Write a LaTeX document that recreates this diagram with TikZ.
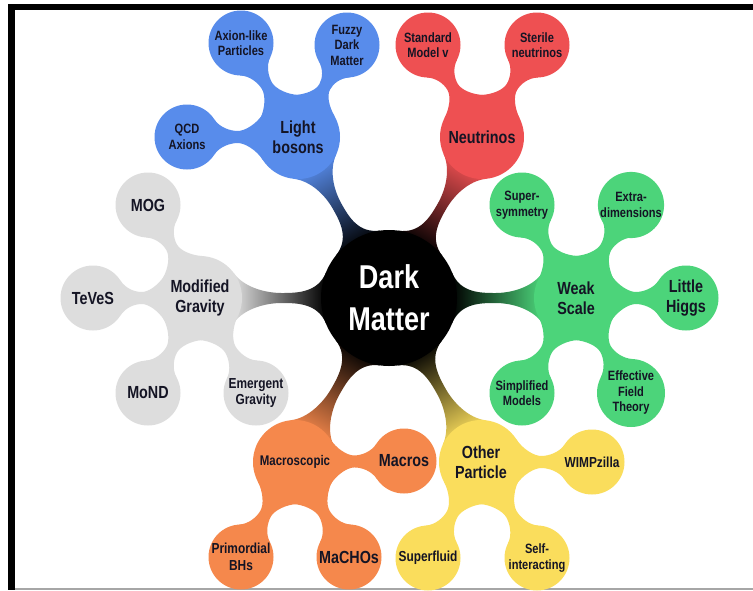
\documentclass[tikz,border=0pt]{standalone}
\usepackage{fontspec}
\usetikzlibrary{calc}
\IfFontExistsTF{Liberation Sans Narrow}{\newfontfamily\cond{Liberation Sans Narrow}}{\newfontfamily\cond{Liberation Sans}[FakeStretch=0.82]}
\definecolor{blueC}{RGB}{88,140,235}
\definecolor{redC}{RGB}{238,80,82}
\definecolor{greenC}{RGB}{76,212,122}
\definecolor{yellowC}{RGB}{250,221,92}
\definecolor{orangeC}{RGB}{245,136,76}
\definecolor{grayC}{RGB}{221,221,221}
\definecolor{txt}{RGB}{20,20,36}
\pgfdeclarelayer{paper}
\pgfdeclarelayer{bg}
\pgfsetlayers{paper,bg,main}
\newcommand\neck[5]{%
\path[#5] let \p1=($(#2)-(#1)$), \n1={atan2(\y1,\x1)}, \n2={veclen(\x1,\y1)},
  \n3={(\n2+#3-#4)/2}, \n4={\n1+\aA}, \n5={\n1-\aA}, \n6={\n1+180-\aB}, \n7={\n1+180+\aB},
  \n8={(\n2+#3-#4)/2-\hh}, \n9={(\n2+#3-#4)/2+\hh} in
  ($(#1)+(\n4:#3)$) .. controls ($(#1)+(\n4:#3)+(\n4-90:\kA)$) and ($(#1)+(\n1:\n8)+(\n1+90:\ww)$)
  .. ($(#1)+(\n1:\n3)+(\n1+90:\ww)$) .. controls ($(#1)+(\n1:\n9)+(\n1+90:\ww)$) and ($(#2)+(\n6:#4)+(\n6+90:\kB)$)
  .. ($(#2)+(\n6:#4)$) -- ($(#2)+(\n7:#4)$)
  .. controls ($(#2)+(\n7:#4)+(\n7-90:\kB)$) and ($(#1)+(\n1:\n9)+(\n1-90:\ww)$)
  .. ($(#1)+(\n1:\n3)+(\n1-90:\ww)$) .. controls ($(#1)+(\n1:\n8)+(\n1-90:\ww)$) and ($(#1)+(\n5:#3)+(\n5+90:\kA)$)
  .. ($(#1)+(\n5:#3)$) -- cycle;}
\begin{document}
\begin{tikzpicture}[x=1pt,y=1pt,
  bub/.style={circle, inner sep=0pt, align=center, text=txt},
  main/.style={bub, minimum size=84pt, font=\cond\bfseries\fontsize{17.5}{20}\selectfont},
  leaf/.style={bub, minimum size=65pt, font=\cond\bfseries\fontsize{13.5}{15.5}\selectfont},
  med/.style={font=\cond\bfseries\fontsize{14.5}{16.5}\selectfont},
  big/.style={font=\cond\bfseries\fontsize{17.5}{20}\selectfont}]
\useasboundingbox (0,0) rectangle (753,-590);
\begin{pgfonlayer}{paper}
\fill[white] (0,0) rectangle (753,-590);
\end{pgfonlayer}
% frame
\fill[black] (8,-4) rectangle (753,-10);
\fill[black] (8,-4) rectangle (15,-590);
\fill[black!35] (15,-588) rectangle (753,-589.5);
% nodes
\node[bub, minimum size=136pt, fill=black, text=white, font=\cond\bfseries\fontsize{33}{42}\selectfont] (DM) at (389,-298) {Dark\\Matter};
\node[main, fill=blueC] (LB) at (298,-137) {Light\\bosons};
\node[leaf, fill=blueC] (ALP) at (241,-43) {Axion-like\\Particles};
\node[leaf, fill=blueC] (FDM) at (347,-45) {Fuzzy\\Dark\\Matter};
\node[leaf, fill=blueC] (QCD) at (187,-137) {QCD\\Axions};
\node[main, fill=redC] (NEU) at (482,-137) {Neutrinos};
\node[leaf, fill=redC] (SMV) at (428,-45) {Standard\\Model v};
\node[leaf, fill=redC] (STE) at (537,-45) {Sterile\\neutrinos};
\node[main, fill=greenC] (WS) at (576,-298) {Weak\\Scale};
\node[leaf, fill=greenC] (SUSY) at (522,-205) {Super-\\symmetry};
\node[leaf, fill=greenC] (XD) at (631,-205) {Extra-\\dimensions};
\node[leaf, big, fill=greenC] (LH) at (686,-298) {Little\\Higgs};
\node[leaf, fill=greenC] (SIMP) at (522,-393) {Simplified\\Models};
\node[leaf, fill=greenC, minimum size=68pt] (EFT) at (631,-393) {Effective\\Field\\Theory};
\node[main, fill=yellowC] (OP) at (481,-462) {Other\\Particle};
\node[leaf, med, fill=yellowC] (WZ) at (592,-462) {WIMPzilla};
\node[leaf, med, fill=yellowC] (SF) at (428,-558) {Superfluid};
\node[leaf, fill=yellowC] (SI) at (537,-558) {Self-\\interacting};
\node[main, fill=orangeC, font=\cond\bfseries\fontsize{14}{16}\selectfont] (MAC) at (295,-462) {Macroscopic};
\node[leaf, big, fill=orangeC] (MACROS) at (404,-461) {Macros};
\node[leaf, med, fill=orangeC] (PBH) at (241,-557) {Primordial\\BHs};
\node[leaf, big, fill=orangeC] (MACHO) at (349,-557) {MaCHOs};
\node[main, fill=grayC] (MG) at (200,-298) {Modified\\Gravity};
\node[leaf, big, fill=grayC] (MOG) at (148,-205) {MOG};
\node[leaf, big, fill=grayC] (TEVES) at (93,-298) {TeVeS};
\node[leaf, big, fill=grayC] (MOND) at (148,-393) {MoND};
\node[leaf, med, fill=grayC] (EG) at (256,-393) {Emergent\\Gravity};
% connectors
\begin{pgfonlayer}{bg}
\def\aA{33}\def\aB{33}\def\kA{12}\def\kB{10}\def\ww{6}\def\hh{7}
\neck{LB}{ALP}{42}{32.5}{fill=blueC}
\neck{LB}{FDM}{42}{32.5}{fill=blueC}
\neck{LB}{QCD}{42}{32.5}{fill=blueC}
\neck{NEU}{SMV}{42}{32.5}{fill=redC}
\neck{NEU}{STE}{42}{32.5}{fill=redC}
\neck{WS}{SUSY}{42}{32.5}{fill=greenC}
\neck{WS}{XD}{42}{32.5}{fill=greenC}
\neck{WS}{LH}{42}{32.5}{fill=greenC}
\neck{WS}{SIMP}{42}{32.5}{fill=greenC}
\neck{WS}{EFT}{42}{34}{fill=greenC}
\neck{OP}{WZ}{42}{32.5}{fill=yellowC}
\neck{OP}{SF}{42}{32.5}{fill=yellowC}
\neck{OP}{SI}{42}{32.5}{fill=yellowC}
\neck{MAC}{MACROS}{42}{32.5}{fill=orangeC}
\neck{MAC}{PBH}{42}{32.5}{fill=orangeC}
\neck{MAC}{MACHO}{42}{32.5}{fill=orangeC}
\neck{MG}{MOG}{42}{32.5}{fill=grayC}
\neck{MG}{TEVES}{42}{32.5}{fill=grayC}
\neck{MG}{MOND}{42}{32.5}{fill=grayC}
\neck{MG}{EG}{42}{32.5}{fill=grayC}
\def\aA{22}\def\aB{36}\def\kA{22}\def\kB{18}\def\ww{5}\def\hh{15}
\neck{DM}{LB}{68}{42}{top color=blueC, bottom color=black, shading angle=29.5}
\neck{DM}{NEU}{68}{42}{top color=redC, bottom color=black, shading angle=-30}
\neck{DM}{WS}{68}{42}{top color=greenC, bottom color=black, shading angle=-90}
\neck{DM}{OP}{68}{42}{top color=yellowC, bottom color=black, shading angle=-150.7}
\neck{DM}{MAC}{68}{42}{top color=orangeC, bottom color=black, shading angle=150.2}
\neck{DM}{MG}{68}{42}{top color=grayC, bottom color=black, shading angle=90}
\end{pgfonlayer}
\end{tikzpicture}
\end{document}
